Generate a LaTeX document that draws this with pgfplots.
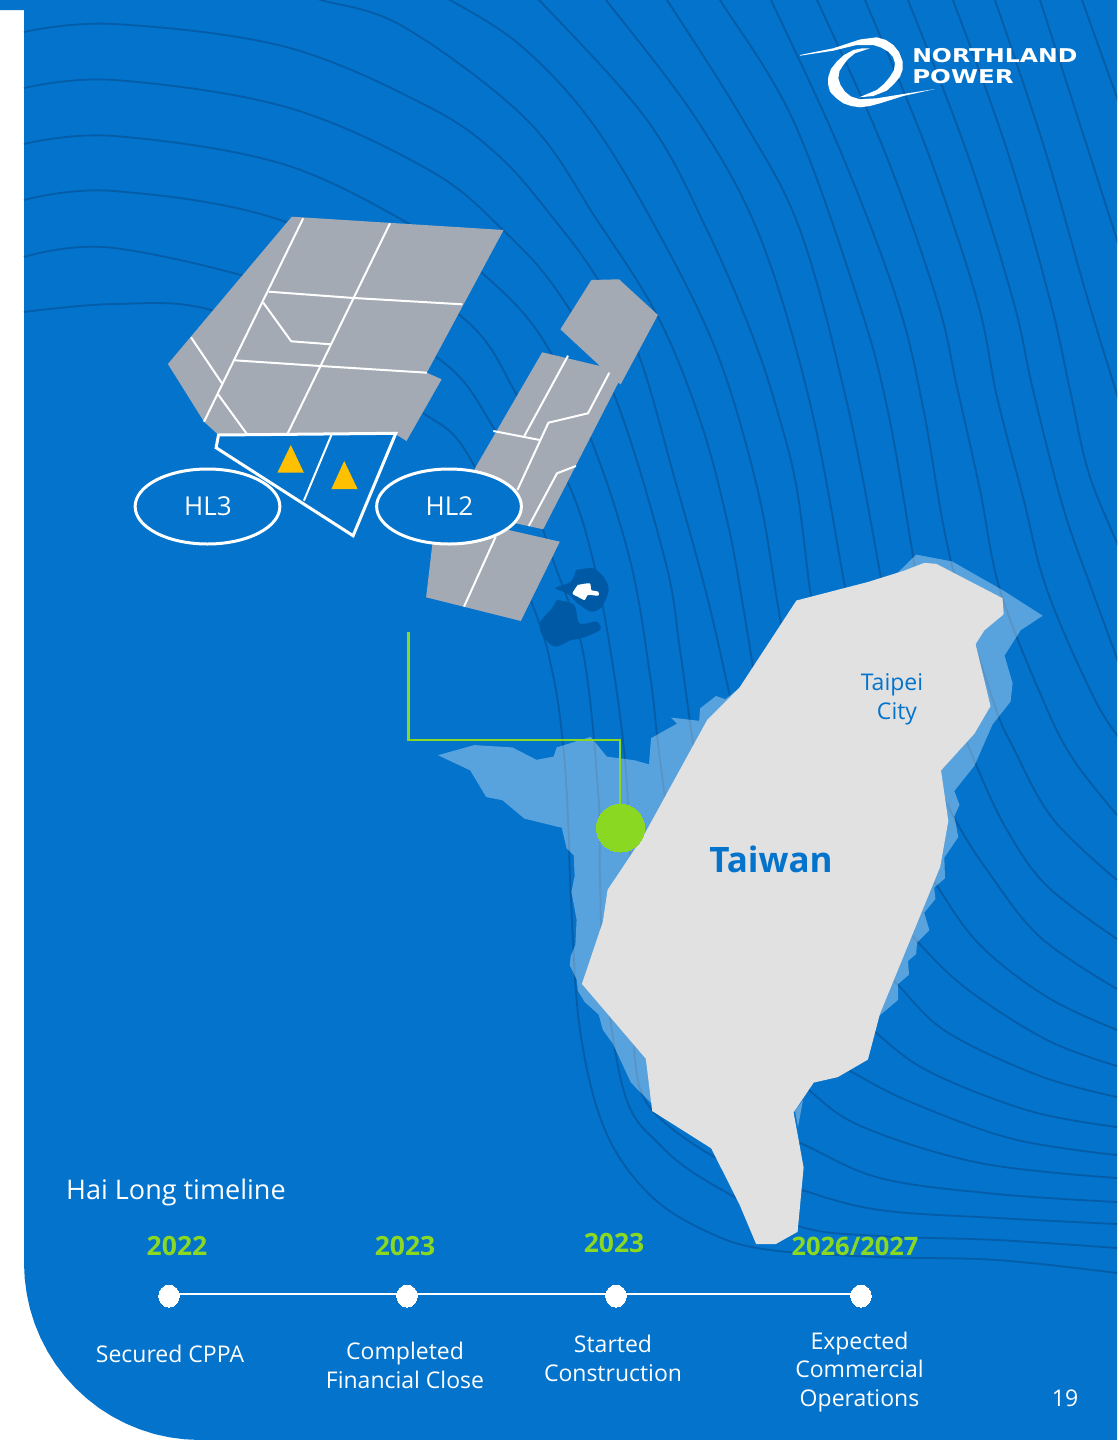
\documentclass[border=0pt]{standalone}
\usepackage{pgfplots}
\pgfplotsset{compat=1.18}
\usepackage{fontspec}
\setmainfont{Open Sans}
\newfontfamily\logofont{DejaVu Sans}
\definecolor{bg}{HTML}{0373CC}
\definecolor{contour}{HTML}{055DA8}
\definecolor{landgrey}{HTML}{E1E1E1}
\definecolor{farm}{HTML}{A3AAB4}
\definecolor{isle}{HTML}{0059A4}
\definecolor{lime}{HTML}{8BD822}
\definecolor{amber}{HTML}{FFC000}
\pgfplotsset{
  ctr/.style={contour, line width=1.8pt, smooth, tension=0.6},
  wline/.style={white, line width=2pt, line join=round},
}
\begin{document}
\begin{tikzpicture}
\begin{axis}[
  scale only axis, width=1117pt, height=1440pt,
  xmin=0, xmax=1117, ymin=0, ymax=1440, y dir=reverse, hide axis]

% page shape
\addplot[fill=bg, draw=none] coordinates {(0,0) (1117,0) (1117,1440) (200,1440) (184.7,1439.3) (169.4,1437.3) (154.4,1434) (139.8,1429.3) (125.6,1423.4) (112,1416.3) (99,1408) (86.9,1398.6) (75.6,1388.2) (65.2,1376.8) (55.8,1364.5) (47.6,1351.5) (40.5,1337.8) (34.6,1323.5) (30,1308.8) (26.7,1293.7) (24.7,1278.4) (24,1263) (24,10) (0,10)} -- cycle;

% contours from the left edge, those that run round the west coast
\addplot[ctr] coordinates {(24,312) (114,304) (211,310) (330,365) (423,413) (471,460) (533,606) (553,675) (563,744) (568,817) (571,900) (580,1030) (605,1130) (650,1195) (710,1233) (770,1250) (880,1257) (997,1260) (1117,1273)};
\addplot[ctr] coordinates {(24,257) (114,248) (290,290) (436,357) (495,430) (535,510) (553,560) (583,652) (598,790) (600,880) (604,970) (625,1095) (660,1145) (710,1183) (798,1226) (880,1236) (997,1240) (1117,1248)};
\addplot[ctr] coordinates {(24,200) (114,191) (286,222) (457,313) (520,400) (568,483) (593,560) (612,660) (625,760) (630,850) (637,1000) (635,1060) (652,1110) (720,1160) (802,1190) (880,1210) (997,1218) (1117,1224)};
\addplot[ctr] coordinates {(24,144) (114,136) (286,165) (429,235) (481,272) (540,335) (590,437) (630,560) (650,675) (658,744) (668,820)};
\addplot[ctr] coordinates {(24,88) (114,80) (286,107) (429,170) (503,230) (560,295) (615,397) (665,560) (680,650) (693,744) (705,820)};
\addplot[ctr] coordinates {(24,32) (114,24) (286,47) (429,107) (500,157) (557,223) (597,278) (638,353) (675,480) (708,600) (735,720)};

% contours through the top edge
\addplot[ctr] coordinates {(290,-8) (321,0) (404,27) (527,120) (597,220) (658,317) (700,420) (727,520) (742,600) (755,680)};
\addplot[ctr] coordinates {(425,-10) (450,0) (520,45) (590,120) (657,230) (717,353) (757,487) (777,600) (790,680)};
\addplot[ctr] coordinates {(525,-10) (539,0) (647,120) (707,230) (753,337) (780,420) (797,490) (810,590) (820,650)};
\addplot[ctr] coordinates {(595,-12) (606,0) (697,120) (760,237) (810,403) (845,587) (855,640)};
\addplot[ctr] coordinates {(658,-12) (667,0) (743,120) (800,230) (847,403) (880,573) (890,640)};
\addplot[ctr] coordinates {(712,-12) (720,0) (793,120) (858,300) (887,407) (912,550) (925,640)};
\addplot[ctr] coordinates {(765,-12) (771,0) (840,150) (897,300) (923,407) (950,557) (993,700) (1013,747) (1053,819) (1117,880)};
\addplot[ctr] coordinates {(811,-12) (817,0) (884,150) (937,300) (957,387) (980,490) (1000,590) (1043,700) (1073,759) (1117,815)};
\addplot[ctr] coordinates {(860,-12) (865,0) (927,150) (977,300) (997,397) (1023,497) (1047,590) (1095,700) (1125,745)};
\addplot[ctr] coordinates {(903,-12) (908,0) (966,150) (1013,300) (1033,390) (1063,507) (1092,590) (1125,680)};
\addplot[ctr] coordinates {(948,-12) (953,0) (1007,150) (1050,300) (1070,390) (1090,477) (1125,560)};
\addplot[ctr] coordinates {(990,-12) (995,0) (1045,150) (1088,300) (1125,420)};
\addplot[ctr] coordinates {(1036,-12) (1040,0) (1085,140) (1125,265)};
\addplot[ctr] coordinates {(1078,-12) (1082,0) (1125,120)};

% contours leaving through the right edge
\addplot[ctr] coordinates {(720,1110) (800,1143) (880,1178) (997,1194) (1117,1202)};
\addplot[ctr] coordinates {(780,1060) (810,1091) (863,1127) (980,1163) (1117,1178)};
\addplot[ctr] coordinates {(800,1040) (852,1072) (913,1103) (1013,1139) (1117,1155)};
\addplot[ctr] coordinates {(830,990) (875,1032) (930,1072) (1030,1111) (1117,1127)};
\addplot[ctr] coordinates {(855,940) (898,985) (947,1032) (1040,1076) (1117,1097)};
\addplot[ctr] coordinates {(880,895) (917,941) (967,989) (1047,1040) (1117,1066)};
\addplot[ctr] coordinates {(905,835) (937,886) (980,945) (1047,997) (1117,1030)};
\addplot[ctr] coordinates {(930,770) (957,823) (987,870) (1040,937) (1117,989)};
\addplot[ctr] coordinates {(955,710) (977,767) (1007,830) (1047,886) (1117,939)};

% shallow water
\addplot[fill=white, fill opacity=0.34, draw=none] coordinates {(438,755.2) (474.2,745.1) (512.4,747.4) (536.5,759.8) (553.7,756.6) (556.6,747.4) (590.7,736.9) (606.8,756.6) (634.9,760.3) (649,764.4) (651,738.2) (677,723.6) (671,717.6) (699.2,720.8) (700,708.4) (716,696) (725.3,699.2) (800,640) (880,590) (916.2,554.6) (952.3,561.5) (1004.5,591.3) (1042.7,615.7) (1020.6,630.3) (1004.5,655.6) (1012.6,683.2) (1010.6,701.5) (992.5,724.5) (974.4,765.8) (954.3,791) (959.5,804.8) (954.3,816.3) (958.3,837) (944.3,857.6) (945,878.3) (934.2,887.5) (935.4,899) (924.2,912.7) (929.4,930.2) (917,942.6) (916.2,954) (908,961) (909,974.7) (898,984) (898,1000) (879,1016) (800,1060) (700,1100) (651,1103) (630.9,1082.6) (612.8,1043.6) (602.8,1029.8) (598.7,1014.6) (584.7,1002) (577.9,990.8) (576.6,979.3) (569.8,965.5) (570.6,956.3) (575.4,944.9) (576.6,919.6) (571.4,892) (574.6,876) (573.8,855.3) (566.6,848.4) (561.8,827.8) (524.4,818.6) (502.3,800.2) (486.2,797) (470.2,770.4)} -- cycle;
\addplot[fill=white, fill opacity=0.34, draw=none] coordinates {(795,1111) (803,1100) (798,1127)} -- cycle;

% island
\addplot[fill=landgrey, draw=none] coordinates {(796.4,600.5) (867.9,582) (904,570.7) (924.2,562.9) (936.2,563.8) (1002.5,598.2) (1003.7,614.3) (984.4,630.3) (975.6,644.1) (990.5,706.1) (974.4,733.7) (941,770.4) (948.3,820.9) (940.2,866.8) (880,1013.7) (867.9,1059.6) (837.8,1077.1) (813.7,1082.6) (793.6,1112.4) (803.6,1167.5) (797.6,1231.8) (775.5,1244.2) (756.2,1244.2) (739.4,1204.3) (711.2,1148.3) (652.2,1111) (645.8,1058.7) (581.9,983.9) (602.8,921.9) (607.6,889.8) (642.9,837) (707.2,719.9) (739.4,687.7)} -- cycle;

% Penghu
\addplot[fill=isle, draw=none, smooth, tension=0.5] coordinates {(576,570) (593,568.3) (603.5,576.7) (608.7,590) (601.8,606.7) (591.4,611.7) (577.6,603.3) (567.3,593.3) (555.3,588.3) (570.8,581.7) (576,570)} -- cycle;
\addplot[fill=isle, draw=none, smooth, tension=0.5] coordinates {(557,600) (574.2,605) (579.4,623.3) (596.6,621.7) (600,630) (581,638.3) (570.8,640) (555.3,646.7) (543.2,636.7) (539.8,623.3) (551.8,608.3) (557,600)} -- cycle;
\addplot[fill=white, draw=none, smooth, tension=0.4] coordinates {(577.7,585) (589.7,583.3) (591.4,590) (598.3,591.7) (598.3,595.7) (588,595) (584.5,600) (577.7,596.7) (572.5,593.3) (577.7,585)} -- cycle;

% wind farm blocks
\addplot[fill=farm, draw=none] coordinates {(291.8,216.7) (503.6,230) (426.8,372.7) (441.6,379.3) (406.5,441) (396.9,435) (218.5,435) (204,421.7) (167.9,364)} -- cycle;
\addplot[fill=farm, draw=none] coordinates {(591.4,280) (619,279.3) (657.9,315) (620.7,384.3) (618.3,382.7) (543.2,529.3) (515.7,523.3) (474.4,469.3) (542.2,352.3) (600,366) (560.4,329.3)} -- cycle;
\addplot[fill=farm, draw=none] coordinates {(434,530) (508.8,530) (559.8,541.7) (520.8,621) (426.1,597.3)} -- cycle;

\addplot[wline] coordinates {(303.2,218.3) (204,421.7)};
\addplot[wline] coordinates {(390,223.3) (287.7,433.3)};
\addplot[wline] coordinates {(268.8,291.7) (353.8,298) (462.3,304.3)};
\addplot[wline] coordinates {(234.3,360.3) (320.4,366) (426.8,372.7)};
\addplot[wline] coordinates {(263.3,302.7) (291.2,341.3) (330.8,344.3)};
\addplot[wline] coordinates {(191,337.3) (222,383.3)};
\addplot[wline] coordinates {(217.8,394) (246.4,433.3)};
\addplot[wline] coordinates {(568,355.7) (524.3,436)};
\addplot[wline] coordinates {(493.3,431) (539.8,440)};
\addplot[wline] coordinates {(609.3,372.7) (588,413.3) (548.4,422.7) (517.4,490)};
\addplot[wline] coordinates {(575.9,466) (557,473.3) (528.8,526)};
\addplot[wline] coordinates {(495.7,536.7) (464,606.7)};

% HL3 area
\addplot[fill=bg, draw=white, line width=3pt, line join=miter] coordinates {(218.5,435) (395.8,433.3) (353.1,535.7) (216.1,447.7)} -- cycle;
\addplot[wline] coordinates {(331.4,435) (303.9,500.7)};
\addplot[fill=amber, draw=none] coordinates {(290.8,445) (277.4,472.7) (303.9,472.7)} -- cycle;
\addplot[fill=amber, draw=none] coordinates {(344.2,461) (331.4,489) (357.6,489)} -- cycle;

% ellipses
\addplot[only marks, mark=*, mark size=37.5pt, mark options={xscale=1.93, fill=bg, draw=white, line width=3pt}] coordinates {(207.5,506.5) (449,506.5)};

% export cable
\addplot[lime, line width=2.5pt, line join=miter] coordinates {(408.5,632) (408.5,740) (620,740) (620,810)};
\addplot[only marks, mark=*, mark size=24pt, mark options={fill=lime, draw=lime, line width=0pt}] coordinates {(620.5,828)};

% logo
\addplot[fill=white, draw=none] coordinates {(800,55) (833.3,48.3) (860,39.5) (876.7,37.3) (886,40) (893.3,45) (899,52) (902.7,61.7) (902.5,70) (900,76.7) (894,84) (886.7,90.7) (873.3,96) (859.3,97.3) (876.7,90) (884,84) (890,76.7) (894,70) (895,63.3) (893,57) (888.3,51.7) (881,47.5) (873.3,45) (856.7,45) (833.3,50.7) (800,55.7)} -- cycle;
\addplot[fill=white, draw=none] coordinates {(870,48.3) (861,48.5) (853.3,50) (844,55) (836.7,61.7) (831,69) (828.3,76.7) (828,84) (830,91.7) (836,98) (843.3,103.3) (851,106) (860,107.3) (870,106) (880,103.3) (903.3,96) (935,89) (903.3,94) (876.7,98.3) (860,99.3) (851,96.5) (845,91.7) (840.5,85) (838.3,78.3) (839.5,71) (843.3,65) (848,59) (855,53.3) (870,48.3)} -- cycle;

% timeline
\addplot[white, line width=2pt] coordinates {(169,1293.5) (861,1293.5)};
\addplot[only marks, mark=*, mark size=11pt, mark options={xscale=0.93, fill=white, draw=white, line width=0pt}] coordinates {(169,1296) (407,1296) (616,1296) (861,1296)};

\end{axis}
\begin{scope}[x=1pt,y=-1pt,yshift=1440pt]
\tikzset{lab/.style={white, font=\fontsize{23}{28.5}\selectfont, inner sep=0pt, align=center},
         yr/.style={lime, font=\fontsize{26.5}{30}\selectfont\bfseries, inner sep=0pt}}
\node[white, font=\fontsize{27}{32}\selectfont, inner sep=0pt, anchor=base west] at (66,1200) {Hai Long timeline};
\node[yr] at (177,1246) {2022};
\node[yr] at (405,1246) {2023};
\node[yr] at (614,1243) {2023};
\node[yr, font=\fontsize{25.5}{30}\selectfont\bfseries] at (855,1246) {2026/2027};
\node[lab] at (170,1354) {Secured CPPA};
\node[lab] at (405,1365.5) {Completed\\Financial Close};
\node[lab] at (613,1358.5) {Started\\Construction};
\node[lab] at (859.5,1372) {Expected\\Commercial\\Operations};
\node[lab] at (1065,1398) {19};
\node[white, font=\fontsize{26}{30}\selectfont, inner sep=0pt] at (208,506.5) {HL3};
\node[white, font=\fontsize{26}{30}\selectfont, inner sep=0pt] at (449.5,506.5) {HL2};
\node[bg, font=\fontsize{23}{28}\selectfont, inner sep=0pt] at (892,685) {Taipei};
\node[bg, font=\fontsize{23}{28}\selectfont, inner sep=0pt] at (897,714) {City};
\node[bg, font=\fontsize{35}{40}\selectfont\bfseries, inner sep=0pt] at (771,859.5) {Taiwan};
\node[white, font=\logofont\fontsize{19}{22}\selectfont\bfseries, inner sep=0pt, anchor=base west, xscale=1.24] at (912,63) {NORTHLAND};
\node[white, font=\logofont\fontsize{19}{22}\selectfont\bfseries, inner sep=0pt, anchor=base west, xscale=1.29] at (912,84) {POWER};
\end{scope}
\end{tikzpicture}
\end{document}
